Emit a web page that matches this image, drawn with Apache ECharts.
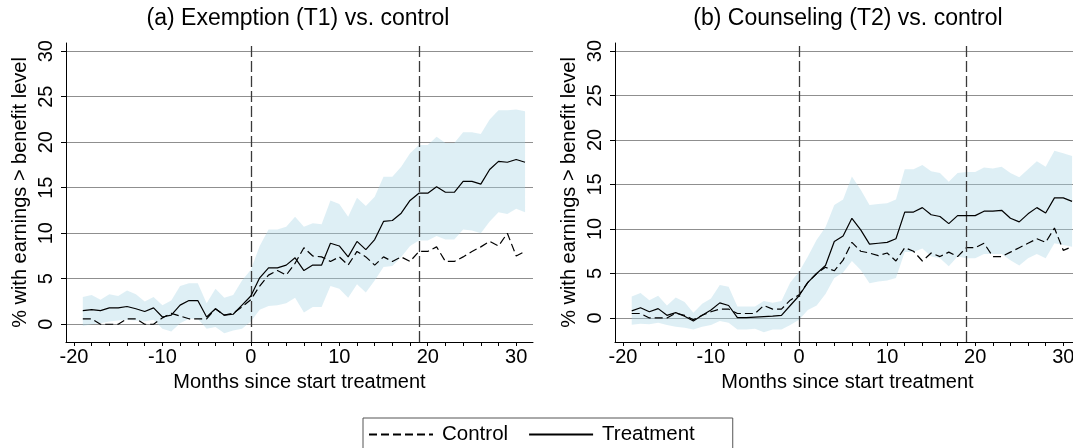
<!DOCTYPE html>
<html>
<head>
<meta charset="utf-8">
<script src="https://cdn.jsdelivr.net/npm/echarts@6/dist/echarts.min.js"></script>
<style>
  html, body { margin: 0; padding: 0; background: #fff; }
  #chart { width: 1073px; height: 448px; }
</style>
</head>
<body>
<div id="chart"></div>
<script>
// Months relative to the start of treatment
const months = [-19, -18, -17, -16, -15, -14, -13, -12, -11, -10, -9, -8, -7, -6, -5, -4, -3, -2, -1,
  0, 1, 2, 3, 4, 5, 6, 7, 8, 9, 10, 11, 12, 13, 14, 15, 16, 17, 18, 19, 20,
  21, 22, 23, 24, 25, 26, 27, 28, 29, 30, 31];

// Panel (a): exemption (T1) vs. control
const treatT1 = [1.5, 1.6, 1.5, 1.8, 1.8, 1.95, 1.7, 1.4, 1.8, 0.8, 1.0, 2.1, 2.6, 2.6, 0.8, 1.7, 1.0, 1.1, 2.1,
  3.1, 5.1, 6.2, 6.2, 6.5, 7.3, 5.9, 6.5, 6.5, 8.9, 8.6, 7.4, 9.1, 8.2, 9.3, 11.3, 11.4, 12.2, 13.6, 14.4, 14.4,
  15.1, 14.5, 14.5, 15.7, 15.7, 15.4, 17.0, 17.9, 17.8, 18.1, 17.8];
const controlT1 = [0.6, 0.6, 0.0, 0.0, 0.0, 0.6, 0.6, 0.0, 0.0, 0.7, 1.2, 0.9, 0.6, 0.6, 0.6, 1.7, 1.0, 1.2, 1.9,
  2.7, 4.2, 5.4, 5.9, 5.4, 6.7, 8.4, 7.5, 7.4, 6.9, 7.4, 6.5, 8.0, 7.4, 6.5, 7.4, 6.9, 7.4, 6.9, 8.0, 8.0,
  8.5, 6.9, 6.9, 7.4, 8.0, 8.5, 9.1, 8.6, 10.0, 7.5, 8.0];
const upperT1 = [3.0, 3.2, 2.7, 3.3, 3.1, 3.7, 3.3, 2.5, 3.0, 2.1, 2.6, 4.2, 4.5, 4.5, 2.3, 3.9, 2.9, 3.2, 4.8,
  6.0, 8.6, 10.4, 10.4, 10.7, 11.8, 10.7, 11.1, 11.0, 13.6, 13.2, 11.8, 13.9, 13.0, 14.0, 16.2, 16.2, 17.3, 18.8, 19.7, 19.7,
  20.6, 19.9, 19.9, 21.1, 21.1, 20.9, 22.5, 23.5, 23.5, 23.6, 23.4];
const lowerT1 = [-0.2, 0.0, 0.1, 0.3, 0.4, 0.5, 0.4, 0.3, 0.5, -0.5, -0.8, 0.1, 0.6, 0.6, -0.5, -0.3, -1.0, -0.7, -0.5,
  0.3, 1.6, 2.0, 2.1, 2.3, 2.9, 1.3, 1.9, 1.9, 4.2, 3.9, 2.9, 4.4, 3.5, 4.8, 6.3, 6.4, 7.4, 8.6, 9.2, 9.2,
  9.7, 9.3, 9.3, 10.4, 10.3, 10.0, 11.3, 12.3, 12.1, 12.7, 12.3];

// Panel (b): counseling (T2) vs. control
const treatT2 = [0.8, 1.15, 0.7, 1.05, 0.3, 0.6, 0.2, -0.35, 0.3, 0.9, 1.7, 1.4, 0.05, 0.05, 0.1, 0.15, 0.2, 0.3, 1.4,
  2.5, 4.0, 5.0, 5.9, 8.6, 9.2, 11.2, 9.9, 8.3, 8.4, 8.5, 8.9, 11.9, 11.9, 12.4, 11.6, 11.4, 10.6, 11.5, 11.5, 11.5,
  12.0, 12.0, 12.1, 11.2, 10.8, 11.7, 12.4, 11.8, 13.5, 13.5, 13.1];
const controlT2 = [0.5, 0.5, 0.0, 0.0, 0.0, 0.55, 0.3, -0.2, 0.3, 0.7, 1.0, 1.0, 0.5, 0.5, 0.5, 1.4, 1.0, 1.0, 2.0,
  2.6, 4.0, 5.0, 5.7, 5.3, 6.5, 8.5, 7.5, 7.3, 7.0, 7.3, 6.4, 7.9, 7.5, 6.4, 7.3, 6.9, 7.4, 6.9, 7.9, 7.9,
  8.4, 6.9, 6.9, 7.4, 7.9, 8.4, 8.9, 8.5, 10.1, 7.6, 8.0];
const upperT2 = [2.4, 2.8, 2.0, 2.5, 1.4, 2.3, 1.8, 0.6, 1.6, 2.2, 3.7, 3.5, 1.3, 1.3, 1.3, 1.9, 1.7, 1.9, 4.0,
  5.2, 6.9, 8.8, 10.2, 12.7, 13.3, 15.9, 14.4, 12.7, 12.8, 12.9, 13.3, 16.7, 16.7, 17.2, 16.5, 16.3, 15.3, 16.3, 16.4, 16.4,
  16.9, 16.8, 17.0, 16.3, 15.8, 16.7, 17.6, 17.0, 18.8, 18.5, 18.2];
const lowerT2 = [-0.75, -0.65, -0.7, -0.55, -0.8, -1.0, -1.1, -1.3, -1.0, -0.8, -0.35, -0.55, -1.3, -1.3, -1.2, -1.6, -1.3, -1.3, -0.8,
  -0.2, 0.9, 1.4, 2.7, 4.5, 5.1, 6.4, 5.4, 3.9, 4.1, 4.2, 4.5, 7.4, 7.4, 7.8, 6.9, 6.7, 5.8, 6.9, 6.7, 6.7,
  7.2, 7.2, 7.2, 6.5, 5.9, 6.7, 7.2, 6.7, 8.4, 8.2, 8.0];

// Axis ticks and reference lines
const yTicks = [0, 5, 10, 15, 20, 25, 30];
const xLabels = [-20, -10, 0, 10, 20, 30];
const xTicks = [-20, -18, -16, -14, -12, -10, -8, -6, -4, -2, 0, 2, 4, 6, 8, 10, 12, 14, 16, 18, 20, 22, 24, 26, 28, 30];
const eventMonths = [0, 19];

const panelTitles = ['(a) Exemption (T1) vs. control', '(b) Counseling (T2) vs. control'];
const yName = '% with earnings > benefit level';
const xName = 'Months since start treatment';

const FONT = '"Liberation Sans", Arial, Helvetica, sans-serif';

const pairs = (vals) => months.map((m, i) => [m, vals[i]]);

function xAxisFor(idx) {
  return {
    gridIndex: idx, type: 'value', min: -20.9, max: 31.9,
    name: xName, nameLocation: 'middle', nameGap: 30,
    nameTextStyle: { fontFamily: FONT, fontSize: 20, color: '#000' },
    axisLine: { show: true, onZero: false, lineStyle: { color: '#000', width: 1 } },
    axisTick: { show: true, length: 4, customValues: xTicks, lineStyle: { color: '#000' } },
    axisLabel: { customValues: xLabels, margin: 5, fontFamily: FONT, fontSize: 20, color: '#000' },
    splitLine: { show: false }
  };
}
function yAxisFor(idx, min) {
  return {
    gridIndex: idx, type: 'value', min: min, max: 30.9,
    name: yName, nameLocation: 'middle', nameGap: 36,
    nameTextStyle: { fontFamily: FONT, fontSize: 20, color: '#000' },
    axisLine: { show: true, onZero: false, lineStyle: { color: '#000', width: 1 } },
    axisTick: { show: true, length: 5, customValues: yTicks, lineStyle: { color: '#000' } },
    axisLabel: { customValues: yTicks, rotate: 90, margin: 10, fontFamily: FONT, fontSize: 20, color: '#000' },
    splitLine: { show: true, lineStyle: { color: '#8f8f8f', width: 1 } }
  };
}

// Confidence band: one polygon along the upper bound and back along the lower bound
function bandSeries(idx, hi, lo) {
  return {
    name: 'ci-' + idx, type: 'custom', xAxisIndex: idx, yAxisIndex: idx,
    data: [[months[0], lo[0]]], silent: true, z: 1, clip: true,
    renderItem: (params, api) => {
      const top = months.map((m, i) => api.coord([m, hi[i]]));
      const bottom = months.map((m, i) => api.coord([m, lo[i]])).reverse();
      return {
        type: 'polygon',
        shape: { points: top.concat(bottom) },
        style: { fill: 'rgba(168, 212, 230, 0.38)', stroke: null }
      };
    }
  };
}

function panelSeries(idx, treat, control, hi, lo) {
  return [
    bandSeries(idx, hi, lo),
    {
      name: 'Control', type: 'line', xAxisIndex: idx, yAxisIndex: idx,
      data: pairs(control), symbol: 'none', z: 4,
      lineStyle: { color: '#000', width: 1.2, type: [8, 4] }
    },
    {
      name: 'Treatment', type: 'line', xAxisIndex: idx, yAxisIndex: idx,
      data: pairs(treat), symbol: 'none', z: 5,
      lineStyle: { color: '#000', width: 1.2, type: 'solid' },
      markLine: {
        silent: true, symbol: ['none', 'none'], label: { show: false },
        lineStyle: { color: '#3a3a3a', width: 1.3, type: [11, 4] },
        data: eventMonths.map(m => ({ xAxis: m }))
      }
    }
  ];
}

const chart = echarts.init(document.getElementById('chart'), null, { renderer: 'canvas' });
chart.setOption({
  animation: false,
  backgroundColor: '#fff',
  color: ['#000'],
  graphic: [
    { type: 'text', x: 298, y: 19, style: { text: panelTitles[0], font: '23px ' + FONT, fill: '#000', textAlign: 'center', textVerticalAlign: 'middle' } },
    { type: 'text', x: 848, y: 19, style: { text: panelTitles[1], font: '23px ' + FONT, fill: '#000', textAlign: 'center', textVerticalAlign: 'middle' } }
  ],
  grid: [
    { left: 66, top: 43, width: 467, height: 299, containLabel: false, outerBoundsMode: 'none' },
    { left: 615, top: 43, width: 465, height: 299, containLabel: false, outerBoundsMode: 'none' }
  ],
  xAxis: [xAxisFor(0), xAxisFor(1)],
  yAxis: [yAxisFor(0, -1.95), yAxisFor(1, -2.7)],
  legend: {
    data: ['Control', 'Treatment'],
    left: 363, top: 418, orient: 'horizontal',
    itemWidth: 64, itemHeight: 14, itemGap: 20,
    itemStyle: { color: 'rgba(0,0,0,0)', borderWidth: 0, opacity: 0 },
    textStyle: { fontFamily: FONT, fontSize: 20.5, color: '#000', padding: [0, 0, 0, 4] },
    borderColor: '#555', borderWidth: 1, borderRadius: 0,
    padding: [6, 38, 10, 5],
    selectedMode: false
  },
  series: [
    ...panelSeries(0, treatT1, controlT1, upperT1, lowerT1),
    ...panelSeries(1, treatT2, controlT2, upperT2, lowerT2)
  ]
});
</script>
</body>
</html>
